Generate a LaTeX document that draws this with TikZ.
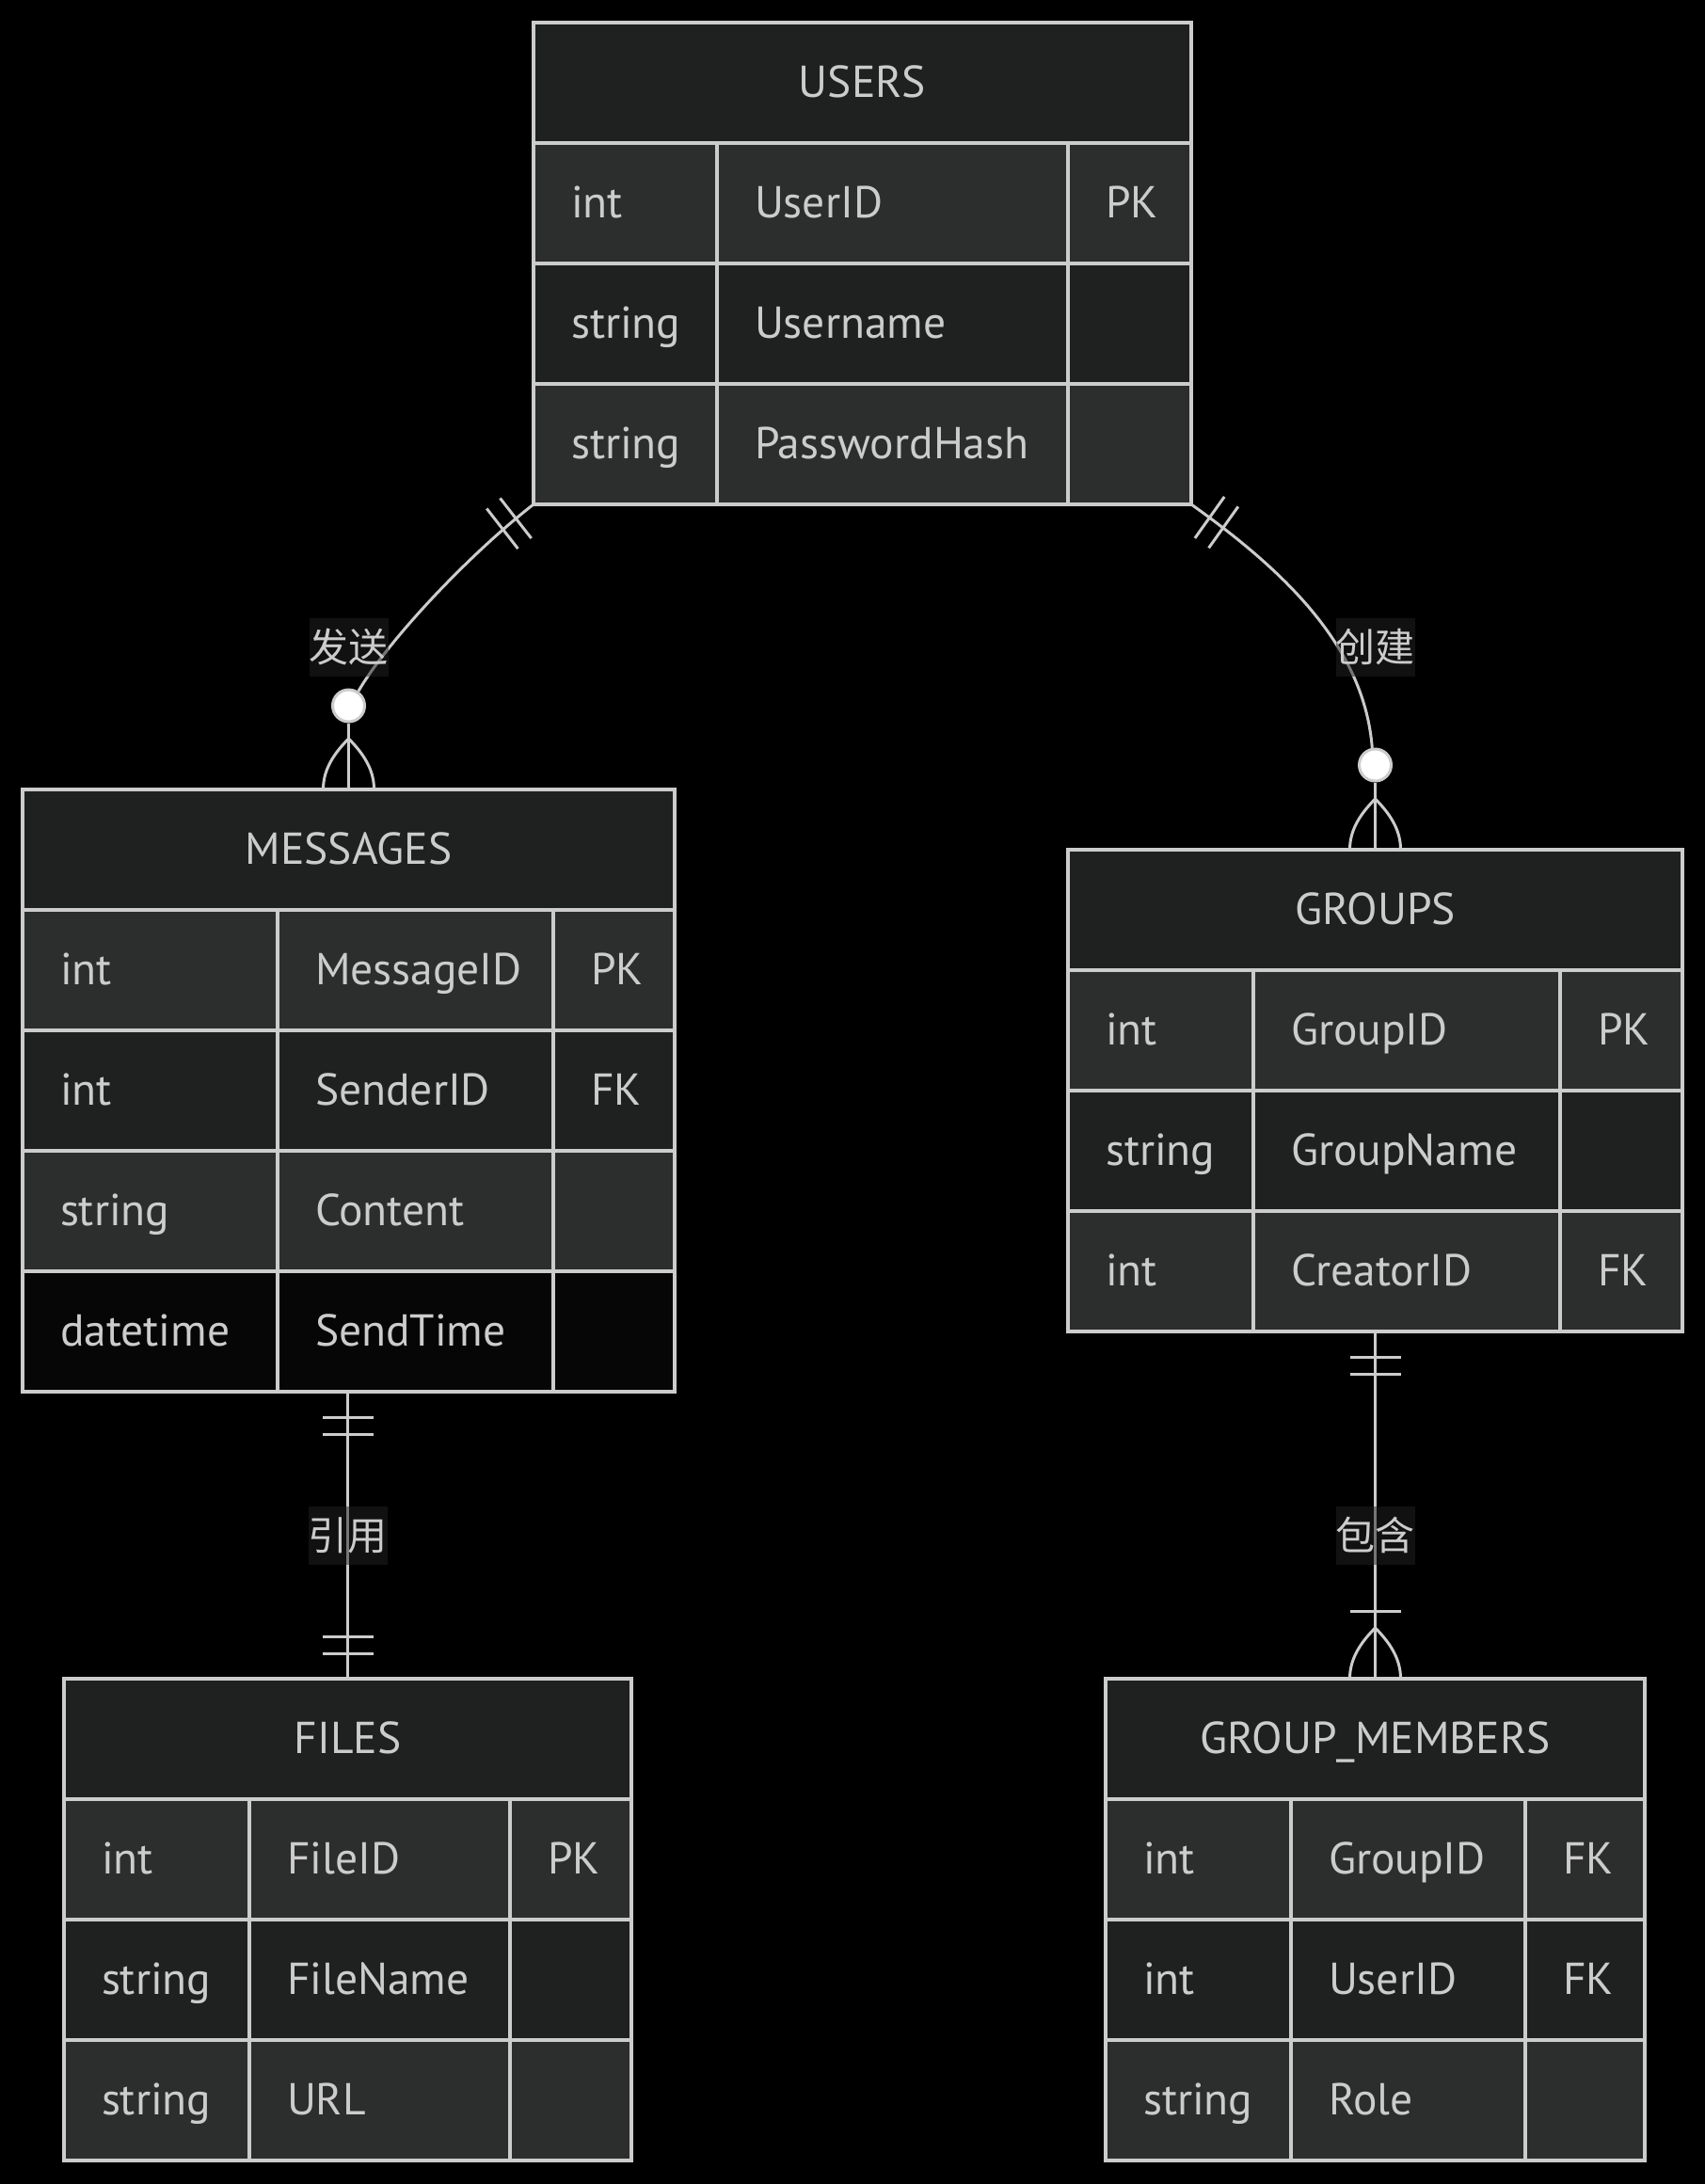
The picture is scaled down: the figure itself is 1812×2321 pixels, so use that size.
\documentclass[tikz,border=0pt]{standalone}
\usepackage{fontspec}
\setmainfont{PT Sans}
\newfontfamily\cjkfont{Noto Sans CJK SC}
\usetikzlibrary{positioning,calc}

\definecolor{erline}{HTML}{CCCCCC}
\definecolor{ertext}{HTML}{CCCCCC}
\definecolor{hdrfill}{HTML}{1F2121}
\definecolor{rowa}{HTML}{2C2E2D}
\definecolor{rowb}{HTML}{1F2121}
\definecolor{rowc}{HTML}{060606}
\definecolor{lblfill}{HTML}{222222}

\newcommand{\erfont}{\fontsize{47.5pt}{56pt}\selectfont}
\newcommand{\lblfont}{\cjkfont\fontsize{42pt}{50pt}\selectfont}

% crow's foot standing on the top edge of node #1
\newcommand{\crowsfoot}[1]{%
  \draw[rel] ($(#1.north)+(0,-54)$) .. controls +(-20,20) and +(0,-17) .. ($(#1.north)+(-27,0)$);
  \draw[rel] ($(#1.north)+(0,-54)$) .. controls +(20,20) and +(0,-17) .. ($(#1.north)+(27,0)$);
}
% bar across the line from #1 towards #2, #3 away from #1
\newcommand{\onebar}[3]{%
  \coordinate (barmid) at ($(#1)!#3!(#2)$);
  \draw[rel] ($(barmid)!27pt!90:(#2)$) -- ($(barmid)!27pt!-90:(#2)$);
}

\tikzset{
  entity/.style={draw=erline, line width=3.2pt, outer sep=0pt, inner ysep=0pt,
    minimum height=128pt, text=ertext, font=\erfont, text height=41pt, text depth=10pt},
  head/.style={entity, fill=hdrfill, inner xsep=0pt},
  cell/.style={entity, inner xsep=40pt, align=left},
  rel/.style={draw=erline, line width=3pt},
  zero/.style={circle, draw=erline, fill=white, line width=3pt, minimum size=34pt, inner sep=0pt},
  rellabel/.style={fill=lblfill, fill opacity=.5, text opacity=1, text=ertext, font=\lblfont,
    minimum width=84pt, minimum height=62pt, inner sep=0pt},
}

\begin{document}
\begin{tikzpicture}[x=1pt, y=-1pt]
  \useasboundingbox (0,0) rectangle (1812,2321);
  \fill[black] (0,0) rectangle (1812,2321);

  % USERS
  \node[head, minimum width=699pt] (users) at (916.5,88) {USERS};
  \begin{scope}[typecol/.style={cell, text width=115pt}, namecol/.style={cell, text width=293pt}, keycol/.style={cell, text width=51pt}]
    \node[typecol, fill=rowa, below right=0pt and 0pt of users.south west] (u1a) {int};
    \node[namecol, fill=rowa, right=0pt of u1a] (u1b) {UserID};
    \node[keycol, fill=rowa, right=0pt of u1b] (u1c) {PK};
    \node[typecol, fill=rowb, below=0pt of u1a] (u2a) {string};
    \node[namecol, fill=rowb, right=0pt of u2a] (u2b) {Username};
    \node[keycol, fill=rowb, right=0pt of u2b] (u2c) {};
    \node[typecol, fill=rowa, below=0pt of u2a] (u3a) {string};
    \node[namecol, fill=rowa, right=0pt of u3a] (u3b) {PasswordHash};
    \node[keycol, fill=rowa, right=0pt of u3b] (u3c) {};
  \end{scope}

  % MESSAGES
  \node[head, minimum width=693pt] (mhead) at (370.5,903) {MESSAGES};
  \begin{scope}[typecol/.style={cell, text width=191pt}, namecol/.style={cell, text width=213pt}, keycol/.style={cell, text width=49pt}]
    \node[typecol, fill=rowa, below right=0pt and 0pt of mhead.south west] (m1a) {int};
    \node[namecol, fill=rowa, right=0pt of m1a] (m1b) {MessageID};
    \node[keycol, fill=rowa, right=0pt of m1b] (m1c) {PK};
    \node[typecol, fill=rowb, below=0pt of m1a] (m2a) {int};
    \node[namecol, fill=rowb, right=0pt of m2a] (m2b) {SenderID};
    \node[keycol, fill=rowb, right=0pt of m2b] (m2c) {FK};
    \node[typecol, fill=rowa, below=0pt of m2a] (m3a) {string};
    \node[namecol, fill=rowa, right=0pt of m3a] (m3b) {Content};
    \node[keycol, fill=rowa, right=0pt of m3b] (m3c) {};
    \node[typecol, fill=rowc, below=0pt of m3a] (m4a) {datetime};
    \node[namecol, fill=rowc, right=0pt of m4a] (m4b) {SendTime};
    \node[keycol, fill=rowc, right=0pt of m4b] (m4c) {};
  \end{scope}

  % GROUPS
  \node[head, minimum width=653pt] (ghead) at (1461.5,967) {GROUPS};
  \begin{scope}[typecol/.style={cell, text width=117pt}, namecol/.style={cell, text width=246pt}, keycol/.style={cell, text width=50pt}]
    \node[typecol, fill=rowa, below right=0pt and 0pt of ghead.south west] (g1a) {int};
    \node[namecol, fill=rowa, right=0pt of g1a] (g1b) {GroupID};
    \node[keycol, fill=rowa, right=0pt of g1b] (g1c) {PK};
    \node[typecol, fill=rowb, below=0pt of g1a] (g2a) {string};
    \node[namecol, fill=rowb, right=0pt of g2a] (g2b) {GroupName};
    \node[keycol, fill=rowb, right=0pt of g2b] (g2c) {};
    \node[typecol, fill=rowa, below=0pt of g2a] (g3a) {int};
    \node[namecol, fill=rowa, right=0pt of g3a] (g3b) {CreatorID};
    \node[keycol, fill=rowa, right=0pt of g3b] (g3c) {FK};
  \end{scope}

  % FILES
  \node[head, minimum width=603pt] (fhead) at (369.5,1848) {FILES};
  \begin{scope}[typecol/.style={cell, text width=117pt}, namecol/.style={cell, text width=197pt}, keycol/.style={cell, text width=49pt}]
    \node[typecol, fill=rowa, below right=0pt and 0pt of fhead.south west] (f1a) {int};
    \node[namecol, fill=rowa, right=0pt of f1a] (f1b) {FileID};
    \node[keycol, fill=rowa, right=0pt of f1b] (f1c) {PK};
    \node[typecol, fill=rowb, below=0pt of f1a] (f2a) {string};
    \node[namecol, fill=rowb, right=0pt of f2a] (f2b) {FileName};
    \node[keycol, fill=rowb, right=0pt of f2b] (f2c) {};
    \node[typecol, fill=rowa, below=0pt of f2a] (f3a) {string};
    \node[namecol, fill=rowa, right=0pt of f3a] (f3b) {URL};
    \node[keycol, fill=rowa, right=0pt of f3b] (f3c) {};
  \end{scope}

  % GROUP_MEMBERS
  \node[head, minimum width=573pt] (gmhead) at (1461.5,1848) {GROUP\_MEMBERS};
  \begin{scope}[typecol/.style={cell, text width=117pt}, namecol/.style={cell, text width=169pt}, keycol/.style={cell, text width=47pt}]
    \node[typecol, fill=rowa, below right=0pt and 0pt of gmhead.south west] (gm1a) {int};
    \node[namecol, fill=rowa, right=0pt of gm1a] (gm1b) {GroupID};
    \node[keycol, fill=rowa, right=0pt of gm1b] (gm1c) {FK};
    \node[typecol, fill=rowb, below=0pt of gm1a] (gm2a) {int};
    \node[namecol, fill=rowb, right=0pt of gm2a] (gm2b) {UserID};
    \node[keycol, fill=rowb, right=0pt of gm2b] (gm2c) {FK};
    \node[typecol, fill=rowa, below=0pt of gm2a] (gm3a) {string};
    \node[namecol, fill=rowa, right=0pt of gm3a] (gm3b) {Role};
    \node[keycol, fill=rowa, right=0pt of gm3b] (gm3c) {};
  \end{scope}

  % USERS ||--o{ MESSAGES
  \coordinate (sendc1) at (495,592);
  \coordinate (sendc2) at (410,684);
  \node[zero] (sendzero) at ($(mhead.north)+(0,-89)$) {};
  \draw[rel] (u3a.south west) .. controls (sendc1) and (sendc2) .. (sendzero.56);
  \draw[rel] (sendzero.south) -- (mhead.north);
  \crowsfoot{mhead}
  \onebar{u3a.south west}{sendc1}{24pt}
  \onebar{u3a.south west}{sendc1}{42pt}
  \node[rellabel] (lsend) at ($(mhead.north)+(0,-151)$) {发送};

  % USERS ||--o{ GROUPS
  \coordinate (makec1) at (1370,610);
  \coordinate (makec2) at (1450,690);
  \node[zero] (makezero) at ($(ghead.north)+(0,-90)$) {};
  \draw[rel] (u3c.south east) .. controls (makec1) and (makec2) .. (makezero.100);
  \draw[rel] (makezero.south) -- (ghead.north);
  \crowsfoot{ghead}
  \onebar{u3c.south east}{makec1}{24pt}
  \onebar{u3c.south east}{makec1}{42pt}
  \node[rellabel] (lmake) at (ghead.north |- lsend) {创建};

  % MESSAGES ||--|| FILES
  \coordinate (mfoot) at (fhead.north |- m4a.south);
  \draw[rel] (mfoot) -- (fhead.north);
  \onebar{mfoot}{fhead.north}{27pt}
  \onebar{mfoot}{fhead.north}{45pt}
  \onebar{fhead.north}{mfoot}{27pt}
  \onebar{fhead.north}{mfoot}{45pt}
  \node[rellabel] (lref) at ($(mfoot)!0.5!(fhead.north)$) {引用};

  % GROUPS ||--|{ GROUP_MEMBERS
  \coordinate (gfoot) at (gmhead.north |- g3a.south);
  \draw[rel] (gfoot) -- (gmhead.north);
  \onebar{gfoot}{gmhead.north}{27pt}
  \onebar{gfoot}{gmhead.north}{45pt}
  \onebar{gmhead.north}{gfoot}{72pt}
  \crowsfoot{gmhead}
  \node[rellabel] (lhold) at (gmhead.north |- lref) {包含};
\end{tikzpicture}
\end{document}
